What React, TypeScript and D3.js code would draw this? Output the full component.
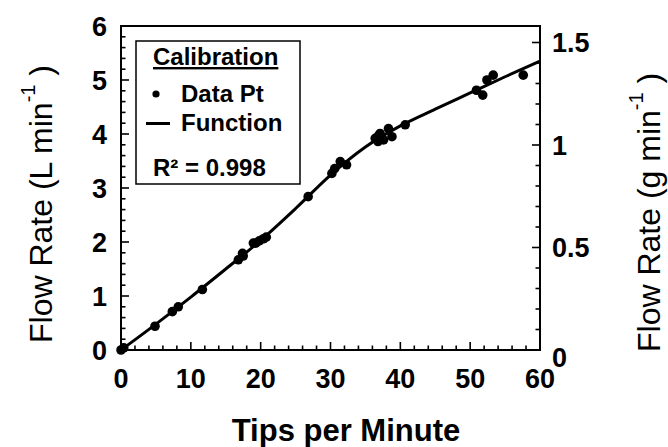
import React from "react";
import * as d3 from "d3";

const dataX = [0, 0.4, 4.87, 7.35, 8.2, 11.65, 16.8, 17.5, 17.4, 18.95, 19.3, 19.8, 20.4, 20.8, 26.8, 30.2, 30.6, 31.4, 32.3, 36.8, 36.4, 37.1, 37.6, 38.3, 38.8, 36.9, 40.7, 50.9, 51.8, 52.4, 53.3, 57.6];
const dataY = [0.0, 0.04, 0.44, 0.71, 0.8, 1.12, 1.67, 1.74, 1.79, 1.98, 1.98, 2.02, 2.06, 2.09, 2.84, 3.27, 3.36, 3.49, 3.43, 3.86, 3.92, 4.01, 3.89, 4.1, 3.95, 3.97, 4.17, 4.81, 4.72, 5.0, 5.09, 5.09];

const fnX = [0, 5, 10, 15, 20, 25, 30, 35, 40, 45, 50, 55, 60];
const fnY = [0, 0.48, 0.98, 1.5, 2.03, 2.62, 3.24, 3.76, 4.15, 4.46, 4.76, 5.06, 5.35];

const xTicks = [0, 10, 20, 30, 40, 50, 60];
const yLeftTicks = [0, 1, 2, 3, 4, 5, 6];
const yRightTicks = [0, 0.5, 1, 1.5];
const yRightLabels = ["0", "0.5", "1", "1.5"];

const W = 668, H = 447;
const L = 121, R = 540, T = 26, B = 350;

export default function App() {
  const x = d3.scaleLinear().domain([0, 60]).range([L, R]);
  const y = d3.scaleLinear().domain([0, 6]).range([B, T]);
  const y2 = d3.scaleLinear().domain([0, 1.5]).range([B, B - 307.5]);
  const y2max = y2.invert(T);

  const line = d3
    .line<number>()
    .x((_, i) => x(fnX[i]))
    .y((d) => y(d))
    .curve(d3.curveMonotoneX);

  const xMinor = d3.range(0, 60.001, 2);
  const yMinor = d3.range(0, 6.001, 0.2);
  const y2Minor = d3.range(0, y2max, 0.1);

  const bold = "'Liberation Sans', Arial, sans-serif";

  return (
    <svg width={W} height={H} style={{ position: "absolute", left: 0, top: 0, background: "#fff" }}>
      <rect x={0} y={0} width={W} height={H} fill="#fff" />
      {/* frame */}
      <rect x={L} y={T} width={R - L} height={B - T} fill="none" stroke="#000" strokeWidth={2} />
      {/* x ticks */}
      {xMinor.map((v, i) => (
        <line key={"xm" + i} x1={x(v)} x2={x(v)} y1={B} y2={B - (Math.abs(v % 10) < 1e-6 ? 8 : 4.5)} stroke="#000" strokeWidth={1.6} />
      ))}
      {/* left ticks */}
      {yMinor.map((v, i) => {
        const major = Math.abs(v - Math.round(v)) < 1e-6;
        return <line key={"yl" + i} x1={L} x2={L + (major ? 8 : 4.5)} y1={y(v)} y2={y(v)} stroke="#000" strokeWidth={1.6} />;
      })}
      {/* right ticks */}
      {y2Minor.map((v, i) => {
        const major = Math.abs(v * 2 - Math.round(v * 2)) < 1e-6;
        return <line key={"yr" + i} x1={R} x2={R - (major ? 8 : 4.5)} y1={y2(v)} y2={y2(v)} stroke="#000" strokeWidth={1.6} />;
      })}
      {/* x labels */}
      {xTicks.map((v) => (
        <text key={"xl" + v} x={x(v)} y={388} textAnchor="middle" fontFamily={bold} fontWeight="bold" fontSize={27}>
          {v}
        </text>
      ))}
      {yLeftTicks.map((v) => (
        <text key={"ylab" + v} x={107} y={y(v)} dy="0.36em" textAnchor="end" fontFamily={bold} fontWeight="bold" fontSize={27}>
          {v}
        </text>
      ))}
      {yRightTicks.map((v, i) => (
        <text key={"yrlab" + v} x={552} y={y2(v) + (v === 0 ? 7 : 0)} dy="0.36em" textAnchor="start" fontFamily={bold} fontWeight="bold" fontSize={27}>
          {yRightLabels[i]}
        </text>
      ))}
      {/* function line */}
      <path d={line(fnY) || ""} fill="none" stroke="#000" strokeWidth={3} />
      {/* data points */}
      {dataX.map((v, i) => (
        <circle key={"p" + i} cx={x(v)} cy={y(dataY[i])} r={4.8} fill="#000" />
      ))}
      {/* legend */}
      <rect x={136} y={41} width={164} height={143} fill="#fff" stroke="#000" strokeWidth={1.5} />
      <text x={153} y={65} fontFamily={bold} fontWeight="bold" fontSize={24} textDecoration="underline">
        Calibration
      </text>
      <circle cx={156} cy={94} r={3.6} fill="#000" />
      <text x={181} y={102} fontFamily={bold} fontWeight="bold" fontSize={24}>
        Data Pt
      </text>
      <line x1={146} x2={170} y1={123.5} y2={123.5} stroke="#000" strokeWidth={3} />
      <text x={181} y={131} fontFamily={bold} fontWeight="bold" fontSize={24}>
        Function
      </text>
      <text x={153} y={176} fontFamily={bold} fontWeight="bold" fontSize={24}>
        R² = 0.998
      </text>
      {/* axis titles */}
      <text x={346} y={441} textAnchor="middle" fontFamily={bold} fontWeight="bold" fontSize={31}>
        Tips per Minute
      </text>
      <text transform="translate(52,343) rotate(-90)" fontFamily={bold} fontSize={32}>
        Flow Rate (L min
        <tspan fontSize={20} dy={-17}>-1</tspan>
        <tspan dy={17}> )</tspan>
      </text>
      <text transform="translate(660,352) rotate(-90)" fontFamily={bold} fontSize={32}>
        Flow Rate (g min
        <tspan fontSize={20} dy={-17}>-1</tspan>
        <tspan dy={17}> )</tspan>
      </text>
    </svg>
  );
}
